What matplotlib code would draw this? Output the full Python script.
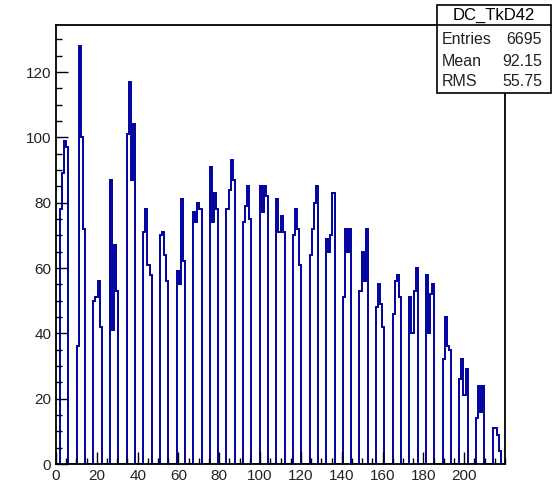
import numpy as np
import matplotlib.pyplot as plt
from matplotlib.patches import Rectangle
from matplotlib.ticker import MultipleLocator

plt.rcParams['font.family'] = ['Liberation Sans Narrow', 'Liberation Sans', 'DejaVu Sans']

# histogram: 216 bins over 0..220, hits come in groups of 4 bins every 8 bins
n_bins = 216
x_min, x_max = 0, 220
tooth_start = [8 * k + 2 for k in range(27)]
tooth_counts = [
    [78, 89, 99, 97], [36, 128, 100, 72], [50, 51, 56, 42], [87, 41, 67, 53],
    [101, 117, 87, 104], [71, 78, 61, 58], [70, 71, 64, 56], [59, 55, 81, 62],
    [77, 74, 80, 78], [91, 74, 83, 78], [78, 84, 93, 87], [74, 79, 85, 75],
    [85, 77, 85, 82], [81, 71, 76, 71], [70, 78, 72, 61], [64, 72, 80, 85],
    [69, 65, 70, 83], [51, 72, 65, 72], [53, 65, 56, 72], [48, 55, 49, 42],
    [46, 56, 58, 51], [51, 40, 53, 60], [58, 40, 52, 55], [32, 45, 36, 35],
    [26, 32, 21, 29], [14, 24, 16, 24], [11, 11, 9, 4],
]
x_labels = np.arange(0, 201, 20)

hist_name = 'DC_TkD42'
stat_names = ['Entries', 'Mean', 'RMS']
stat_values = ['6695', '92.15', '55.75']

counts = np.zeros(n_bins)
for start, vals in zip(tooth_start, tooth_counts):
    counts[start:start + len(vals)] = vals
edges = np.linspace(x_min, x_max, n_bins + 1)

W, H = 553, 488
fig = plt.figure(figsize=(W / 100, H / 100), dpi=100)
ax = fig.add_axes([56 / W, 1 - 464 / H, 449 / W, 439 / H])

ax.stairs(counts, edges, baseline=0, color='#0000a0', lw=1.4)

ax.set_xlim(x_min, x_max)
ax.set_ylim(0, 1.05 * counts.max())
ax.set_xticks(x_labels)
ax.xaxis.set_minor_locator(MultipleLocator(5))
ax.yaxis.set_major_locator(MultipleLocator(20))
ax.yaxis.set_minor_locator(MultipleLocator(5))
ax.tick_params(which='both', direction='in', top=False, right=False,
               width=1, color='black', labelsize=11, labelcolor='#222222')
ax.tick_params(which='major', length=8.5, pad=3.5)
ax.tick_params(which='minor', length=4.3)
for s in ax.spines.values():
    s.set_linewidth(1.3)
    s.set_zorder(3)

# stats box in the top right corner
def fx(px):
    return px / W

def fy(py):
    return 1 - py / H

box_l, box_r, box_t, box_b, box_mid = 437, 551, 5, 93, 25
fig.patches.append(Rectangle((fx(box_l), fy(box_b)), fx(box_r) - fx(box_l),
                             fy(box_t) - fy(box_b), transform=fig.transFigure,
                             facecolor='white', edgecolor='black', lw=1.2, zorder=5))
fig.lines.append(plt.Line2D([fx(box_l), fx(box_r)], [fy(box_mid), fy(box_mid)],
                            transform=fig.transFigure, color='black', lw=1.2, zorder=6))
fig.text(fx((box_l + box_r) / 2), fy(15), hist_name, ha='center', va='center',
         fontsize=12, family='Liberation Sans', zorder=7)
for i, (name, val) in enumerate(zip(stat_names, stat_values)):
    y = fy(40 + 21 * i)
    fig.text(fx(442), y, name, ha='left', va='center', fontsize=11.5,
             family='Liberation Sans', color='#222222', zorder=7)
    fig.text(fx(542), y, val, ha='right', va='center', fontsize=11.5,
             family='Liberation Sans', color='#222222', zorder=7)

fig.savefig('out.png', dpi=100)
